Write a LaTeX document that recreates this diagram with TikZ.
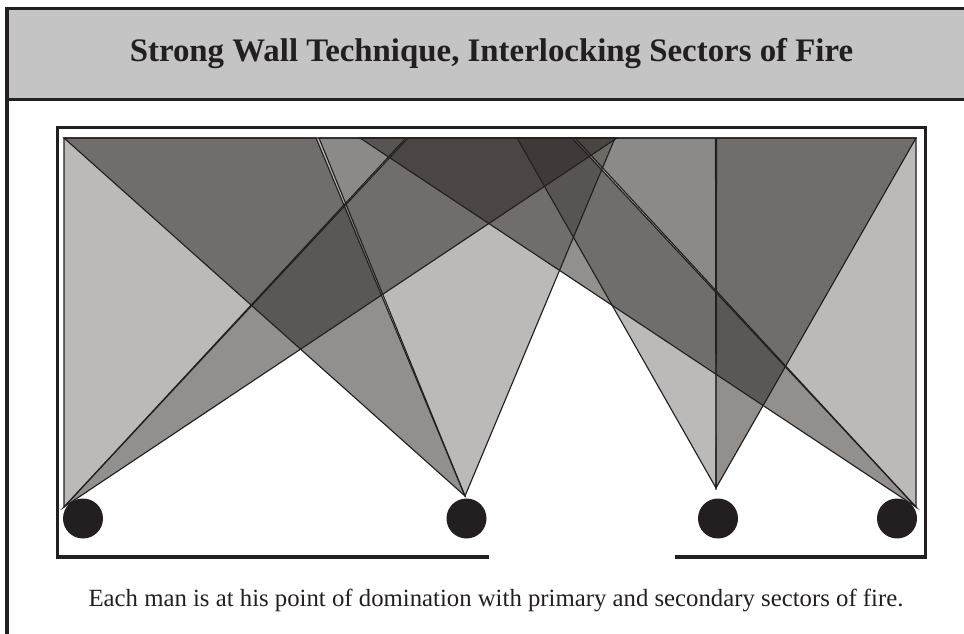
\documentclass[tikz,border=0pt]{standalone}
\usepackage{fontspec}
\usepackage{xcolor}
\setmainfont{Liberation Serif}
\definecolor{inkblack}{HTML}{231F20}
\definecolor{firefill}{HTML}{25201C}
\definecolor{headgray}{HTML}{C4C4C4}
\tikzstyle{frameline} = [draw=inkblack,line width=2.6pt]
\tikzstyle{man} = [circle,fill=inkblack,inner sep=0pt,minimum size=30pt]
\tikzstyle{sectorlight} = [draw=inkblack,line width=.85pt,fill=firefill,fill opacity=.31,line join=miter]
\tikzstyle{sectordark} = [draw=inkblack,line width=.85pt,fill=firefill,fill opacity=.5,line join=miter]

\begin{document}
\begin{tikzpicture}[x=.75pt,y=-.75pt]
        \useasboundingbox (0,0) rectangle (964,634);
        \fill[headgray] (7,8.5) rectangle (964,99.5);
        \draw[frameline] (964,8.5) -- (7,8.5) -- (7,634);
        \draw[frameline, line width=2pt] (7,99.5) -- (964,99.5);
        \node[font=\bfseries\fontsize{24.65}{29}\selectfont, text=inkblack, anchor=base] at (491.5,62) (title) {Strong Wall Technique, Interlocking Sectors of Fire};

        \draw[frameline] (489,557) -- (57.5,557) -- (57.5,127.5) -- (925.5,127.5) -- (925.5,557) -- (675,557);

        \coordinate (a) at (64,507);
        \coordinate (b) at (465,496);
        \coordinate (c) at (716,488);
        \coordinate (d) at (916,507);

        \draw[sectorlight] (a) -- (64,138) -- (406,138) -- cycle;
        \draw[sectordark] (a) -- (408,138) -- (617,138) -- cycle;
        \draw[sectordark] (b) -- (64,138) -- (316,138) -- cycle;
        \draw[sectorlight] (b) -- (319,138) -- (615,138) -- cycle;
        \draw[sectorlight] (c) -- (517,138) -- (715.5,138) -- cycle;
        \draw[sectordark] (c) -- (716.5,138) -- (916,138) -- cycle;
        \draw[sectordark] (d) -- (360,138) -- (572,138) -- cycle;
        \draw[sectorlight] (d) -- (575,138) -- (916,138) -- cycle;

        \node[man] at (83,518.5) (m1) {};
        \node[man] at (466.5,518.5) (m2) {};
        \node[man] at (718,518.5) (m3) {};
        \node[man] at (897,518.5) (m4) {};

        \node[font=\fontsize{18.57}{22}\selectfont, text=inkblack, anchor=base] at (496,606) (caption) {Each man is at his point of domination with primary and secondary sectors of fire.};
    \end{tikzpicture}
\end{document}
